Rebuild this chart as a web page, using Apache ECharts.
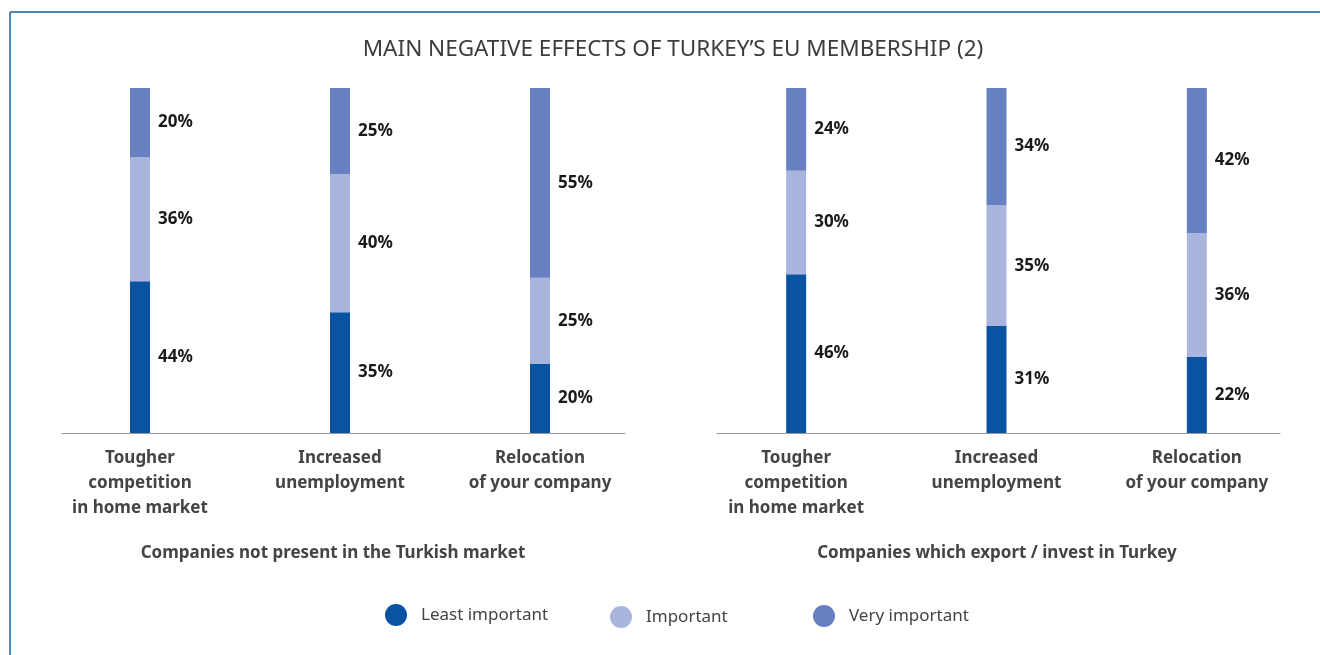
<!DOCTYPE html>
<html>
<head>
<meta charset="utf-8">
<script src="https://cdn.jsdelivr.net/npm/echarts@6/dist/echarts.min.js"></script>
<style>
html, body { margin: 0; padding: 0; background: #fff; }
#main { width: 1320px; height: 655px; }
</style>
</head>
<body>
<div id="main"></div>
<script>
var dom = document.getElementById('main');
var myChart = echarts.init(dom);

// categories and values (percent)
var categories = ['Tougher\ncompetition\nin home market', 'Increased\nunemployment', 'Relocation\nof your company'];
var seriesNames = ['Least important', 'Important', 'Very important'];

// companies not present in the Turkish market
var leftLeast = [44, 35, 20];
var leftImportant = [36, 40, 25];
var leftVery = [20, 25, 55];

// companies which export / invest in Turkey
var rightLeast = [46, 31, 22];
var rightImportant = [30, 35, 36];
var rightVery = [24, 34, 42];

var colors = ['#0a52a2', '#a9b5dd', '#6680c1'];
var font = '"Noto Sans", "Open Sans", sans-serif';

function barSeries(name, data, color, idx, stack) {
    return {
        name: name,
        type: 'bar',
        stack: stack,
        xAxisIndex: idx,
        yAxisIndex: idx,
        barWidth: 20,
        data: data,
        itemStyle: { color: color },
        label: {
            show: true,
            position: 'right',
            distance: 8,
            formatter: '{c}%',
            fontFamily: font,
            fontWeight: 'bold',
            fontSize: 17,
            color: '#1a1a1a'
        }
    };
}

function catAxis(idx) {
    return {
        type: 'category',
        gridIndex: idx,
        data: categories,
        axisLine: { show: false },
        axisTick: { show: false },
        axisLabel: {
            margin: 13,
            fontFamily: font,
            fontWeight: 'bold',
            fontSize: 17,
            lineHeight: 25,
            color: '#444'
        }
    };
}

function lineAxis(idx) {
    return {
        type: 'category',
        gridIndex: idx,
        data: [''],
        axisLine: { show: true, lineStyle: { color: '#9a9a9a', width: 1 } },
        axisTick: { show: false },
        axisLabel: { show: false }
    };
}

function valAxis(idx) {
    return { type: 'value', gridIndex: idx, min: 0, max: 100, show: false };
}

var legendText = { fontFamily: font, fontSize: 17, color: '#444', padding: [0, 0, 0, 9] };

var option = {
    animation: false,
    textStyle: { fontFamily: font },
    grid: [
        { left: 40, width: 600, top: 88, bottom: 222 },
        { left: 696, width: 601, top: 88, bottom: 222 },
        { left: 62, width: 563, top: 88, bottom: 222 },
        { left: 717, width: 563, top: 88, bottom: 222 }
    ],
    xAxis: [catAxis(0), catAxis(1), lineAxis(2), lineAxis(3)],
    yAxis: [valAxis(0), valAxis(1), valAxis(2), valAxis(3)],
    legend: [
        { data: [seriesNames[0]], left: 380, top: 599, icon: 'circle', itemWidth: 22, itemHeight: 22, textStyle: legendText, selectedMode: false },
        { data: [seriesNames[1]], left: 605, top: 601, icon: 'circle', itemWidth: 22, itemHeight: 22, textStyle: legendText, selectedMode: false },
        { data: [seriesNames[2]], left: 808, top: 600, icon: 'circle', itemWidth: 22, itemHeight: 22, textStyle: legendText, selectedMode: false }
    ],
    graphic: [
        { type: 'line', shape: { x1: 10, y1: 12, x2: 1320, y2: 12 }, style: { stroke: '#4f88b4', lineWidth: 2 } },
        { type: 'line', shape: { x1: 10, y1: 12, x2: 10, y2: 655 }, style: { stroke: '#4f88b4', lineWidth: 2 } },
        { type: 'text', x: 673, y: 50, style: { text: 'MAIN NEGATIVE EFFECTS OF TURKEY\u2019S EU MEMBERSHIP (2)', font: '22.5px ' + font, fill: '#3c3c3c', align: 'center', verticalAlign: 'middle' } },
        { type: 'text', x: 333, y: 553, style: { text: 'Companies not present in the Turkish market', font: 'bold 17px ' + font, fill: '#444', align: 'center', verticalAlign: 'middle' } },
        { type: 'text', x: 997, y: 553, style: { text: 'Companies which export / invest in Turkey', font: 'bold 17px ' + font, fill: '#444', align: 'center', verticalAlign: 'middle' } }
    ],
    series: [
        barSeries(seriesNames[0], leftLeast, colors[0], 0, 'left'),
        barSeries(seriesNames[1], leftImportant, colors[1], 0, 'left'),
        barSeries(seriesNames[2], leftVery, colors[2], 0, 'left'),
        barSeries(seriesNames[0], rightLeast, colors[0], 1, 'right'),
        barSeries(seriesNames[1], rightImportant, colors[1], 1, 'right'),
        barSeries(seriesNames[2], rightVery, colors[2], 1, 'right')
    ]
};

if (option && typeof option === 'object') {
    myChart.setOption(option);
}
</script>
</body>
</html>
